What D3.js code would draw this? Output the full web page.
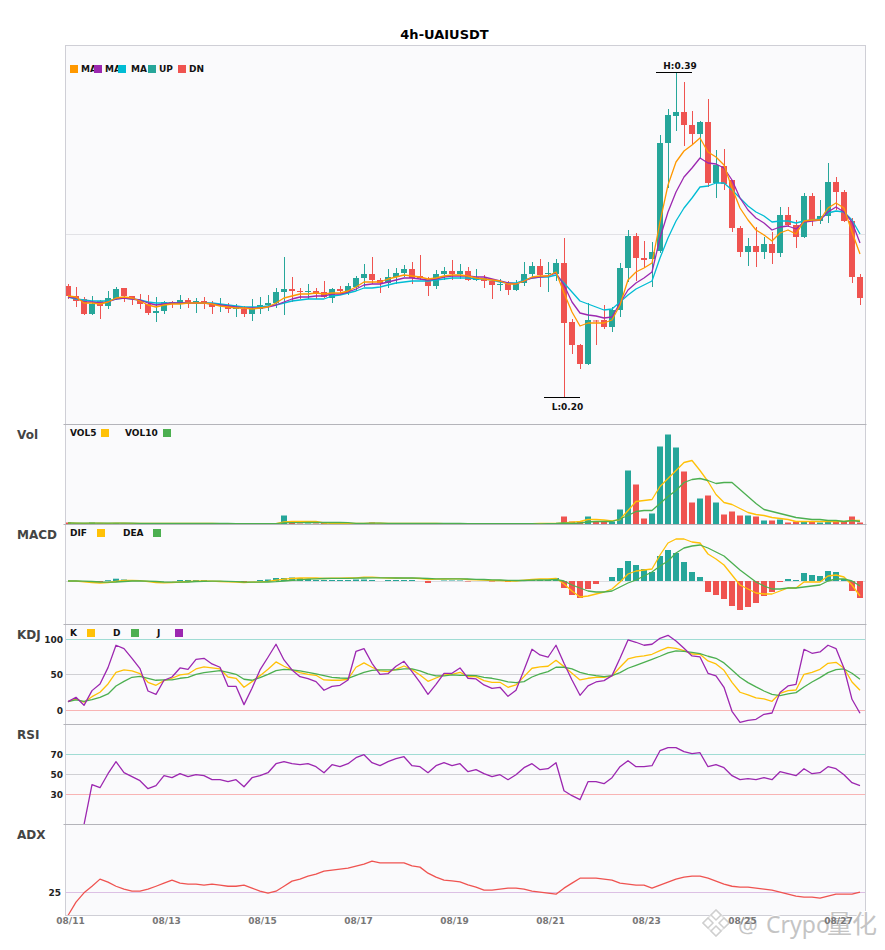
<!DOCTYPE html>
<html>
<head>
<meta charset="utf-8">
<script src="https://cdn.jsdelivr.net/npm/d3@7"></script>
<style>
	html, body { margin: 0; padding: 0; background: #fff; }
	text { font-family: "DejaVu Sans", sans-serif; }
</style>
</head>
<body>
<div id="chart"></div>
<script>

var title = "4h-UAIUSDT";
var dateLabels = ["08/11", "08/13", "08/15", "08/17", "08/19", "08/21", "08/23", "08/25", "08/27"];

// 4h candles

var opens = [
	.2656,.2596,.2578,.2488,.2566,.2536,.2578,.2644,.2596,.2572,
	.2548,.2494,.2506,.2560,.2548,.2572,.2554,.2566,.2548,.2545,
	.2536,.2518,.2518,.2488,.2518,.2542,.2554,.2620,.2638,.2626,
	.2620,.2626,.2620,.2584,.2638,.2626,.2650,.2704,.2728,.2692,
	.2674,.2710,.2734,.2758,.2716,.2692,.2656,.2728,.2746,.2728,
	.2746,.2692,.2704,.2686,.2665,.2668,.2632,.2674,.2728,.2776,
	.2731,.2728,.2794,.2440,.2302,.2188,.2449,.2452,.2410,.2512,
	.2764,.2956,.2824,.2818,.2866,.3514,.3676,.3700,.3622,.3568,
	.3640,.3274,.3376,.3292,.3004,.2860,.2896,.2860,.2908,.2854,
	.3082,.3022,.2950,.3196,.3046,.3076,.3280,.3220,.3046,.2710
];
var closes = [
	.2596,.2566,.2488,.2548,.2536,.2584,.2638,.2596,.2578,.2548,
	.2494,.2506,.2560,.2548,.2572,.2554,.2566,.2554,.2530,.2548,
	.2518,.2524,.2488,.2518,.2542,.2554,.2620,.2638,.2626,.2620,
	.2626,.2614,.2590,.2638,.2626,.2656,.2704,.2728,.2692,.2674,
	.2710,.2734,.2758,.2704,.2704,.2656,.2728,.2746,.2728,.2746,
	.2692,.2710,.2686,.2662,.2668,.2632,.2668,.2728,.2776,.2722,
	.2734,.2794,.2434,.2302,.2188,.2452,.2446,.2410,.2512,.2764,
	.2956,.2824,.2812,.2860,.3514,.3682,.3700,.3622,.3568,.3640,
	.3274,.3382,.3268,.3004,.2860,.2896,.2860,.2908,.2854,.3082,
	.3022,.2950,.3196,.3052,.3076,.3280,.3220,.3046,.2710,.2584
];
var highs = [
	.2668,.2650,.2590,.2596,.2572,.2626,.2650,.2644,.2596,.2608,
	.2602,.2590,.2566,.2566,.2602,.2584,.2584,.2590,.2566,.2584,
	.2554,.2548,.2536,.2578,.2590,.2602,.2644,.2830,.2710,.2644,
	.2668,.2644,.2686,.2644,.2656,.2674,.2716,.2788,.2830,.2704,
	.2758,.2764,.2782,.2800,.2842,.2710,.2752,.2770,.2812,.2788,
	.2770,.2758,.2722,.2698,.2698,.2686,.2692,.2800,.2800,.2818,
	.2800,.2818,.2944,.2458,.2308,.2554,.2452,.2542,.2530,.2794,
	.2992,.2974,.2926,.2920,.3562,.3718,.3940,.3880,.3706,.3646,
	.3778,.3472,.3478,.3292,.3016,.2944,.3010,.2950,.2980,.3130,
	.3130,.3052,.3214,.3214,.3172,.3394,.3310,.3232,.3064,.2728
];
var lows = [
	.2578,.2530,.2482,.2482,.2458,.2518,.2572,.2560,.2542,.2518,
	.2482,.2440,.2488,.2524,.2518,.2524,.2494,.2518,.2488,.2500,
	.2494,.2470,.2470,.2446,.2488,.2506,.2524,.2482,.2560,.2578,
	.2578,.2578,.2584,.2554,.2602,.2602,.2626,.2650,.2668,.2614,
	.2644,.2668,.2710,.2668,.2692,.2596,.2638,.2692,.2692,.2698,
	.2686,.2686,.2644,.2578,.2626,.2602,.2626,.2656,.2710,.2650,
	.2620,.2686,.1984,.2248,.2158,.2182,.2302,.2398,.2380,.2470,
	.2680,.2686,.2764,.2650,.2854,.3244,.3586,.3496,.3502,.3424,
	.3250,.3184,.3232,.2980,.2830,.2776,.2770,.2818,.2788,.2830,
	.3010,.2884,.2944,.3016,.3028,.3034,.3112,.3040,.2674,.2542
];

// moving averages

var ma5 = [
	.2596,.2590,.2554,.2554,.2548,.2560,.2584,.2590,.2584,.2566,
	.2542,.2530,.2542,.2548,.2548,.2554,.2554,.2554,.2548,.2536,
	.2530,.2524,.2524,.2518,.2524,.2530,.2554,.2584,.2596,.2608,
	.2608,.2614,.2608,.2614,.2614,.2626,.2650,.2680,.2680,.2680,
	.2698,.2710,.2722,.2716,.2710,.2698,.2704,.2716,.2722,.2722,
	.2716,.2704,.2698,.2692,.2686,.2668,.2668,.2686,.2710,.2716,
	.2716,.2740,.2614,.2500,.2416,.2434,.2434,.2434,.2452,.2542,
	.2692,.2740,.2764,.2794,.3040,.3262,.3400,.3466,.3502,.3544,
	.3460,.3430,.3382,.3244,.3124,.3052,.2992,.2962,.2926,.2974,
	.2992,.2968,.3046,.3052,.3052,.3124,.3154,.3124,.2980,.2848
];
var ma10 = [
	.2590,.2584,.2560,.2560,.2554,.2560,.2578,.2584,.2578,.2572,
	.2554,.2542,.2548,.2554,.2554,.2554,.2554,.2554,.2548,.2542,
	.2536,.2530,.2524,.2524,.2524,.2530,.2542,.2560,.2578,.2590,
	.2590,.2596,.2596,.2608,.2608,.2620,.2638,.2662,.2668,.2668,
	.2680,.2692,.2704,.2704,.2698,.2692,.2698,.2710,.2716,.2716,
	.2716,.2710,.2710,.2698,.2686,.2674,.2668,.2686,.2704,.2710,
	.2716,.2734,.2662,.2560,.2494,.2482,.2476,.2464,.2470,.2554,
	.2632,.2674,.2704,.2740,.2944,.3100,.3220,.3310,.3364,.3424,
	.3394,.3388,.3364,.3292,.3184,.3112,.3064,.3034,.2992,.3010,
	.3016,.2998,.3040,.3046,.3052,.3100,.3130,.3100,.3040,.2914
];
var ma20 = [
	.2590,.2578,.2572,.2566,.2566,.2566,.2578,.2584,.2578,.2572,
	.2560,.2554,.2554,.2554,.2554,.2554,.2554,.2554,.2554,.2548,
	.2542,.2536,.2530,.2530,.2530,.2536,.2542,.2554,.2566,.2572,
	.2578,.2578,.2578,.2596,.2602,.2614,.2626,.2644,.2644,.2650,
	.2662,.2674,.2680,.2686,.2686,.2686,.2692,.2698,.2704,.2704,
	.2704,.2698,.2698,.2692,.2680,.2674,.2674,.2692,.2704,.2710,
	.2710,.2722,.2674,.2620,.2566,.2548,.2530,.2512,.2518,.2560,
	.2602,.2638,.2662,.2686,.2824,.2944,.3046,.3124,.3184,.3250,
	.3256,.3274,.3274,.3232,.3184,.3136,.3100,.3076,.3040,.3046,
	.3046,.3034,.3046,.3052,.3058,.3094,.3106,.3100,.3052,.2968
];

// volume, scaled so the biggest bar is about 90

var volumes = [
	2,1,1,2,1,1,1.5,1,1,1,
	1.5,1,1,1,1,1,1,1,1,.5,
	.5,1,1,1,.5,.5,1.5,9,2,1,
	1,1,1.5,1,1,1,1.5,1,2,1,
	1,1,1,1,1,1,1,.5,1,.5,
	1,.5,.5,1,.5,1,.5,1,1.5,1,
	1,1.5,8,3,3,8,3,3,3,15,
	54,40,6,11,78,90,77,53,22,26,
	29,22,10,13,9,9,8,4,4,5,
	2,3,3,3,2,3,3,3,8,2
];
var vol5 = [
	1.5,1.4,1.2,1.4,1.3,1.2,1.3,1.3,1.2,1.2,
	1.2,1.2,1.1,1.1,1,1,1,1,1,.9,
	.8,.8,.8,.8,.8,.7,.8,2.5,3,3,
	3,3,1.5,1.2,1.2,1.2,1.2,1.2,1.4,1.3,
	1.2,1.1,1,1,1,1,1,.9,.9,.8,
	.8,.8,.7,.7,.7,.7,.7,.8,.9,1,
	1,1.2,1.5,2.3,3,5,5,4.5,3.7,5,
	14,23,24,25,38,46,54,62,64,54,
	43,30,22,20,16,12,10,9,7,6,
	5,3,3,3,3,3,3,3,4,4
];
var vol10 = [
	1.5,1.4,1.3,1.3,1.3,1.3,1.3,1.3,1.3,1.2,
	1.2,1.2,1.2,1.2,1.1,1.1,1.1,1,1,1,
	1,.9,.9,.9,.8,.8,.8,1.6,1.9,1.9,
	2,2,2,2,2,1.9,1.2,1.2,1.3,1.3,
	1.2,1.2,1.2,1.1,1.1,1.1,1,1,1,1,
	.9,.9,.9,.8,.8,.8,.8,.8,.8,.7,
	.8,1,1.5,1,1.5,2.5,3,3,3,5.5,
	9,13,14,14,21,28,34,42,45,46,
	44,41,42,42,35,28,21,15,13,11,
	9,7,6,5,5,4,4,3,4,3
];

// macd, same arbitrary unit for the three series

var macdHist = [
	0,0,-1,-1,-1,.8,2.3,1.5,1,0,
	-1,-1,0,0,1,1,1,1,0,0,
	0,0,-1,0,1,1.5,3,3,3.5,3,
	2,1,1,1,1,1,1.5,1.5,1,0,
	1,1,1,1,0,-2,0,.5,.5,.5,
	-.5,0,0,-.5,0,-1,0,1,1,1,
	1,3,-7,-14,-17,-8,-3,0,4,13,
	20,16,12,9,25,31,28,19,9,4,
	-11,-14,-18,-25,-29,-26,-22,-15,-11,-1,
	2,1,8,6,5,10,9,2,-10,-17
];
var dif = [
	0,0,-.8,-1.5,-2,-1.5,-.5,.5,.5,.3,
	-.5,-1.5,-1.8,-1.5,-1,-.5,-.2,0,-.2,-.5,
	-.8,-1,-1.5,-1.2,-.8,-.3,.8,1.8,2.5,3,
	3,3,2.5,2.8,2.8,3,3.2,3.8,3.8,3.3,
	3,3,2.8,2.8,2.5,1.5,1.8,2,2.2,2.2,
	1.5,1.2,1,.5,.5,0,0,.8,1.5,2,
	2,2.7,-3,-10,-16,-15,-13,-11,-8,-1,
	7,10,11,12,26,38,42,42,39,38,
	27,22,16,6,-4,-8,-12,-13,-13,-10,
	-7,-7,-1,-1,-1,5,6,4,-4,-15
];
var dea = [
	0,0,-.2,-.5,-1,-1.2,-1,-.5,0,0,
	-.2,-.5,-1,-1.2,-1.2,-1,-.7,-.3,-.2,-.2,
	-.4,-.6,-1,-1.2,-1.2,-1,-.7,0,.7,1.2,
	1.8,2.2,2.5,2.6,2.6,2.7,2.8,3,3.2,3.2,
	3.2,3,3,3,2.8,2.5,2.2,2.1,2.1,2.1,
	2,1.7,1.5,1.2,1,.7,.5,.5,.8,1,
	1,1.5,0,-4,-7,-10,-11,-11,-10,-6,
	-2,1,5,9,15,20,28,33,35,36,
	33,29,25,18,11,5,-1,-5,-8,-8,
	-7,-7,-6,-5,-4,0,2,2,0,-5
];

// kdj

var kdjK = [
	12.2,16,11.3,19.2,25.4,37.1,53.5,56.8,55.4,51.6,
	39.4,35.2,41.8,45.1,49.8,51.2,58.2,61,59.6,58.2,
	46.9,45.1,32.4,40.4,48.8,57.7,68.1,62,56.8,53.1,
	50.7,49.3,42.7,42.3,42.3,43.7,60.6,66.7,60.6,55.4,
	54.5,57.7,62.4,57.3,49.8,40.8,45.5,49.8,50.7,53.5,
	47.4,47.4,41.8,39.4,39.4,32.4,35.7,47.4,59.2,61,
	62,70.4,61.5,52.1,42.7,45.1,46.5,46.5,48.4,60.6,
	72.3,75.1,76.5,78.9,84,88.7,87.3,84,79.3,78.9,
	69.5,65.3,56.3,39.4,25.4,21.6,17.4,16,12.7,23.9,
	27.7,28.6,50.7,53.5,57.7,66.2,67.6,59.2,39.9,28.2
];
var kdjD = [
	12.2,14.6,12.7,15,18.3,23,34.3,40.8,46.5,47.9,
	45.1,42.3,42.7,42.7,45.1,46.5,50.7,53.1,54.5,55.9,
	53.5,50.7,43.7,42.3,46,50.7,55.9,57.7,56.8,55.4,
	53.5,51.2,48.8,46.5,45.5,45.1,49.3,53.5,56.3,56.8,
	56.8,56.8,58.2,58.2,55.4,51.2,48.4,48.4,49.8,49.3,
	49.3,48.8,46.5,45.1,42.7,39.9,39,40.4,46.9,51.2,
	54.5,60.6,60.6,58.2,53.5,50.7,48.8,47.4,48.8,53.1,
	59.2,63.4,67.6,71.8,76.1,80.8,83.6,83.1,81.7,79.8,
	76.1,73.2,66.7,56.8,46.5,39,32.9,27.2,22.5,20.7,
	23,24.9,32.9,39.9,46,53.1,57.3,58.2,52.1,43.7
];
var kdjJ = [
	12.2,18.3,7,27.7,37.1,60.1,91.6,86.9,73.2,58.7,
	27.2,22.5,42.3,46.9,59.6,57.7,71.8,73.2,65.3,60.6,
	33.8,33.8,8,31,56.8,74.7,93,70.9,56.8,47.4,
	44.6,40.4,28.2,33.8,35.2,42.7,83.1,86.9,66.2,50.7,
	51.6,62,69,54.5,39.4,22.5,36.6,52.1,52.1,59.6,
	45.1,44.1,35.7,31,32.4,19.7,28.2,56.8,85.9,77.9,
	74.7,91.6,66.2,42.7,21.1,34.3,39.9,41.8,48.8,73.2,
	99.1,95.8,91.6,93,101.4,105.6,97.7,87.3,76.5,75.1,
	52.1,48.4,32.4,-1.4,-16.9,-14.1,-12.7,-5.6,-3.8,24.9,
	34.3,36.6,85.9,80.3,82.2,91.6,86.9,59.2,15.5,-4.2
];

// rsi, no value for the first two candles

var rsi = [
	null,null,0,40,37,51,63,52,48,44,
	36,39,49,47,51,48,50,49,45,45,
	43,45,38,47,49,52,61,63,61,60,
	61,58,52,60,58,61,67,70,62,59,
	63,66,68,59,58,52,59,62,59,61,
	53,55,51,48,50,45,50,57,61,55,
	56,62,34,29,25,43,43,41,47,58,
	64,58,58,59,74,77,77,73,71,72,
	58,60,57,49,45,46,45,47,45,53,
	51,49,56,51,52,58,56,50,42,39
];

// adx

var adx = [
	0,14.6,24.8,32,39.8,36.5,32,28.8,26.6,26.6,
	28.8,32,35.4,38.7,35.4,34.3,34.3,33.2,34.3,33.2,
	32,32,33.2,29.9,26.6,24.4,26.6,32,37.6,39.8,
	43,45.2,48.5,49.6,50.7,51.8,54,56.2,59.4,57.6,
	57.6,57.6,57.6,54.3,52.9,46.3,41.9,38.7,37.9,36.8,
	33.6,31,27.7,27.7,28.8,29.9,29.9,28.8,26.6,25.5,
	24.4,23.3,29.9,35.4,40.8,40.8,40.8,39.8,38.7,35.4,
	34.3,33.2,33.2,29.9,33.2,36.5,39.8,41.9,43,43,
	40.8,37.6,34.3,32,31,31,29.9,28.8,27.7,25.5,
	23.3,21.2,20,20,19,21.2,23.3,23.3,23.3,25.5
];

var UP = "#26a69a", DN = "#ef5350";
var MA_COLORS = ["#ff9800", "#9c27b0", "#00bcd4"];
var YELLOW = "#ffc107", GREEN = "#4caf50", PURPLE = "#9c27b0";

var width = 885, height = 950;
var left = 65.5, right = 865.5;

var svg = d3.select("#chart").append("svg")
	.attr("width", width)
	.attr("height", height)
	.style("display", "block");

var x = d3.scaleLinear().domain([0, opens.length - 1]).range([68, 860]);
var candleWidth = 6;

svg.append("rect")
	.attr("x", left).attr("y", 45)
	.attr("width", right - left).attr("height", 870)
	.attr("fill", "#fafafc");

svg.append("text")
	.attr("x", 444.5).attr("y", 39)
	.attr("text-anchor", "middle")
	.style("font-size", "13px")
	.style("font-weight", "bold")
	.attr("fill", "#000")
	.text(title);

// one panel = clipped group + y scale

var panels = [];

function addPanel(name, top, bottom, domain) {

	var id = "clip-" + panels.length;

	svg.append("clipPath").attr("id", id)
		.append("rect")
		.attr("x", left).attr("y", top)
		.attr("width", right - left).attr("height", bottom - top);

	var panel = {
		top : top,
		bottom : bottom,
		y : d3.scaleLinear().domain(domain).range([bottom, top]),
		g : svg.append("g").attr("clip-path", "url(#" + id + ")")
	};

	panels.push(panel);

	if(name != null) {
		svg.append("text")
			.attr("x", 17).attr("y", top + 14)
			.style("font-size", "12px")
			.style("font-weight", "bold")
			.attr("fill", "#444")
			.text(name);
	}

	return panel;
}

function hLine(panel, value, color) {

	// keep guide lines on a whole pixel row
	var row = Math.floor(panel.y(value)) + .5;

	panel.g.append("line")
		.attr("x1", left).attr("x2", right)
		.attr("y1", row).attr("y2", row)
		.attr("stroke", color)
		.attr("stroke-width", 1);
}

function drawLine(panel, values, color, strokeWidth) {

	var line = d3.line()
		.defined(function (d) { return d != null; })
		.x(function (d, i) { return x(i); })
		.y(function (d) { return panel.y(d); });

	panel.g.append("path")
		.attr("d", line(values))
		.attr("fill", "none")
		.attr("stroke", color)
		.attr("stroke-width", strokeWidth || 1.3)
		.attr("stroke-linejoin", "round");
}

function drawLegend(items) {

	items.forEach(function (item) {
		svg.append("text")
			.attr("x", item.x).attr("y", item.y + 7)
			.style("font-size", "9px")
			.style("font-weight", "bold")
			.attr("fill", "#111")
			.text(item.label);
	});

	// swatches go on top, the main panel's labels run under the next one
	items.forEach(function (item) {
		svg.append("rect")
			.attr("x", item.sx).attr("y", item.y)
			.attr("width", 8).attr("height", 8)
			.attr("fill", item.color);
	});
}

function yLabels(panel, values, axisX) {

	var axis = d3.axisLeft(panel.y).tickValues(values).tickSize(0).tickPadding(0);

	var g = svg.append("g")
		.attr("transform", "translate(" + axisX + ",0)")
		.call(axis);

	g.select(".domain").remove();

	g.selectAll("text")
		.style("font-size", "9px")
		.style("font-weight", "bold")
		.style("font-family", "'DejaVu Sans', sans-serif")
		.attr("fill", "#222");
}

// Main

var main = addPanel(null, 45, 425, [.1822, .4102]);

hLine(main, .2962, "#e2e2e6");

var candles = d3.range(opens.length);

main.g.selectAll(".wick")
	.data(candles)
	.enter().append("line")
	.attr("class", "wick")
	.attr("x1", function (i) { return x(i) + .5; })
	.attr("x2", function (i) { return x(i) + .5; })
	.attr("y1", function (i) { return main.y(highs[i]); })
	.attr("y2", function (i) { return main.y(lows[i]); })
	.attr("stroke", function (i) { return closes[i] >= opens[i] ? UP : DN; })
	.attr("stroke-width", 1);

main.g.selectAll(".body")
	.data(candles)
	.enter().append("rect")
	.attr("class", "body")
	.attr("x", function (i) { return x(i) - candleWidth / 2 ; })
	.attr("width", candleWidth)
	.attr("y", function (i) { return main.y(Math.max(opens[i], closes[i])); })
	.attr("height", function (i) { return Math.max(1, Math.abs(main.y(opens[i]) - main.y(closes[i]))); })
	.attr("fill", function (i) { return closes[i] >= opens[i] ? UP : DN; });

drawLine(main, ma20, MA_COLORS[2]);
drawLine(main, ma10, MA_COLORS[1]);
drawLine(main, ma5, MA_COLORS[0]);

// high / low markers

var hiIndex = d3.maxIndex(highs), loIndex = d3.minIndex(lows);

[
	{ i : hiIndex, value : highs[hiIndex], label : "H:", dy : -4, lx : 4 },
	{ i : loIndex, value : lows[loIndex], label : "L:", dy : 12, lx : 3.5 }
].forEach(function (m) {

	var my = Math.floor(main.y(m.value)) + .5;

	svg.append("line")
		.attr("x1", x(m.i) - 20).attr("x2", x(m.i) + 16)
		.attr("y1", my).attr("y2", my)
		.attr("stroke", "#000")
		.attr("stroke-width", 1);

	svg.append("text")
		.attr("x", x(m.i) + m.lx).attr("y", my + m.dy)
		.attr("text-anchor", "middle")
		.style("font-size", "9px")
		.style("font-weight", "bold")
		.attr("fill", "#111")
		.text(m.label + m.value.toFixed(2));
});

drawLegend([
	{ label : "MA", x : 81, sx : 70, y : 65, color : MA_COLORS[0] },
	{ label : "MA", x : 105, sx : 94, y : 65, color : MA_COLORS[1] },
	{ label : "MA", x : 131, sx : 118, y : 65, color : MA_COLORS[2] },
	{ label : "UP", x : 159, sx : 148, y : 65, color : UP },
	{ label : "DN", x : 189, sx : 178, y : 65, color : DN }
]);

// Volume

var volPanel = addPanel("Vol", 425, 525, [-0.5, 99.5]);

volPanel.g.selectAll("rect.bar")
	.data(volumes)
	.enter().append("rect")
	.attr("class", "bar")
	.attr("x", function (d, i) { return x(i) - candleWidth / 2; })
	.attr("width", candleWidth)
	.attr("y", function (d) { return volPanel.y(d); })
	.attr("height", function (d) { return volPanel.y(0) - volPanel.y(d); })
	.attr("fill", function (d, i) { return closes[i] >= opens[i] ? UP : DN; });

drawLine(volPanel, vol5, YELLOW);
drawLine(volPanel, vol10, GREEN);

drawLegend([
	{ label : "VOL5", x : 70, sx : 101, y : 429, color : YELLOW },
	{ label : "VOL10", x : 125, sx : 163, y : 429, color : GREEN }
]);

// MACD

var macdPanel = addPanel("MACD", 525, 625, [-44, 56]);

hLine(macdPanel, 0, "#dcdce0");

macdPanel.g.selectAll("rect.bar")
	.data(macdHist)
	.enter().append("rect")
	.attr("class", "bar")
	.attr("x", function (d, i) { return x(i) - candleWidth / 2; })
	.attr("width", candleWidth)
	.attr("y", function (d) { return macdPanel.y(Math.max(d, 0)); })
	.attr("height", function (d) { return Math.abs(macdPanel.y(d) - macdPanel.y(0)); })
	.attr("fill", function (d) { return d >= 0 ? UP : DN; });

drawLine(macdPanel, dif, YELLOW);
drawLine(macdPanel, dea, GREEN);

drawLegend([
	{ label : "DIF", x : 70, sx : 97, y : 529, color : YELLOW },
	{ label : "DEA", x : 123, sx : 153, y : 529, color : GREEN }
]);

// KDJ

var kdjPanel = addPanel("KDJ", 625, 725, [-20.7, 120.1]);

hLine(kdjPanel, 100, "#a0dcd4");
hLine(kdjPanel, 50, "#d0d0d4");
hLine(kdjPanel, 0, "#f8b4b4");

drawLine(kdjPanel, kdjK, YELLOW);
drawLine(kdjPanel, kdjD, GREEN);
drawLine(kdjPanel, kdjJ, PURPLE);

yLabels(kdjPanel, [0, 50, 100], 63);

drawLegend([
	{ label : "K", x : 70, sx : 87, y : 629, color : YELLOW },
	{ label : "D", x : 113, sx : 131, y : 629, color : GREEN },
	{ label : "J", x : 157, sx : 175, y : 629, color : PURPLE }
]);

// RSI

var rsiPanel = addPanel("RSI", 725, 825, [-0.3, 99.7]);

hLine(rsiPanel, 70, "#a0dcd4");
hLine(rsiPanel, 50, "#d0d0d4");
hLine(rsiPanel, 30, "#f8b4b4");

drawLine(rsiPanel, rsi, PURPLE);

yLabels(rsiPanel, [30, 50, 70], 63);

// ADX

var adxPanel = addPanel("ADX", 825, 915.5, [0, 99]);

hLine(adxPanel, 25, "#dcc0e4");

drawLine(adxPanel, adx, DN);

yLabels(adxPanel, [25], 61);

// Frame and panel separators

svg.append("rect")
	.attr("x", left).attr("y", 45.5)
	.attr("width", right - left).attr("height", 870)
	.attr("fill", "none")
	.attr("stroke", "#cfcfd6");

[424.5, 524.5, 624.5, 724.5, 824.5].forEach(function (py) {
	svg.append("line")
		.attr("x1", left - 2).attr("x2", right + 1)
		.attr("y1", py).attr("y2", py)
		.attr("stroke", "#b4b4ba");
});

// Watermark, under the date labels

var mark = svg.append("g").attr("transform", "translate(716,923)");

[[0, 0, 13], [0, -8, 5], [-8, 0, 5], [8, 0, 5], [0, 8, 5]].forEach(function (d) {
	mark.append("path")
		.attr("d", d3.line()([[d[0], d[1] - d[2]], [d[0] + d[2], d[1]], [d[0], d[1] + d[2]], [d[0] - d[2], d[1]]]) + "Z")
		.attr("fill", "#fff")
		.attr("stroke", d[2] > 10 ? "#e4e4e4" : "#cfcfcf")
		.attr("stroke-width", 1.5);
});

var markText = svg.append("text")
	.attr("y", 933)
	.style("font-family", "'Noto Sans', 'Noto Sans CJK SC', sans-serif")
	.style("paint-order", "stroke")
	.attr("stroke", "#fff")
	.attr("stroke-width", 2)
	.attr("fill", "#c4c4c4");

markText.append("tspan").attr("x", 738).style("font-size", "22px").text("@");
markText.append("tspan").attr("x", 766).style("font-size", "23px").text("Crypo");
markText.append("tspan").attr("x", 827).style("font-size", "25px").text("量化");

// Date axis

var xAxis = d3.axisBottom(d3.scaleLinear().domain(x.domain()).range([70, 862]))
	.tickValues(dateLabels.map(function (d, i) { return i * 12; }))
	.tickFormat(function (d, i) { return dateLabels[i]; })
	.tickSize(0)
	.tickPadding(0);

var xG = svg.append("g")
	.attr("transform", "translate(0,918)")
	.call(xAxis);

xG.select(".domain").remove();

xG.selectAll("text")
	.style("font-size", "9px")
	.style("font-weight", "bold")
	.style("font-family", "'DejaVu Sans', sans-serif")
	.attr("fill", "#777");

</script>
</body>
</html>
